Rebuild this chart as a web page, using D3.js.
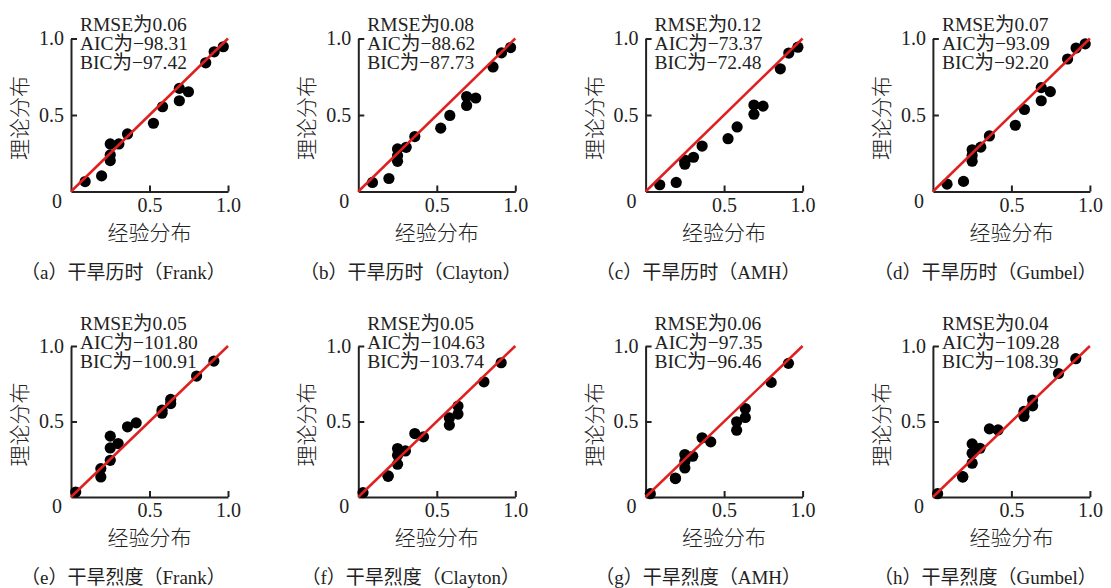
<!DOCTYPE html>
<html>
<head>
<meta charset="utf-8">
<script src="https://cdn.jsdelivr.net/npm/d3@7"></script>
<style>
  body { margin: 0; background: #fff; }
  svg text { font-family: "Liberation Serif", "Noto Sans CJK SC", serif; fill: #222; }
</style>
</head>
<body>
<svg id="chart" width="1111" height="588"></svg>
<script>
// empirical distribution (x) for the two variables
var durationX = [0.09, 0.195, 0.25, 0.25, 0.25, 0.305, 0.36, 0.525, 0.583, 0.69, 0.69, 0.748, 0.858, 0.912, 0.97];
var severityX = [0.03, 0.19, 0.19, 0.25, 0.25, 0.25, 0.30, 0.36, 0.415, 0.58, 0.58, 0.635, 0.635, 0.80, 0.91];

// theoretical distribution (y) for each copula
var durFrank   = [0.065, 0.102, 0.202, 0.239, 0.311, 0.311, 0.376, 0.446, 0.554, 0.593, 0.674, 0.652, 0.841, 0.913, 0.946];
var durClayton = [0.059, 0.085, 0.197, 0.234, 0.278, 0.289, 0.359, 0.414, 0.497, 0.562, 0.621, 0.611, 0.814, 0.906, 0.941];
var durAMH     = [0.044, 0.059, 0.178, 0.195, 0.205, 0.224, 0.297, 0.345, 0.422, 0.505, 0.565, 0.558, 0.802, 0.905, 0.943];
var durGumbel  = [0.048, 0.066, 0.198, 0.235, 0.273, 0.290, 0.363, 0.433, 0.536, 0.593, 0.679, 0.653, 0.866, 0.938, 0.965];
var sevFrank   = [0.033, 0.188, 0.133, 0.243, 0.325, 0.403, 0.354, 0.465, 0.491, 0.555, 0.575, 0.619, 0.646, 0.801, 0.900];
var sevClayton = [0.029, 0.137, 0.140, 0.217, 0.277, 0.321, 0.305, 0.420, 0.398, 0.476, 0.524, 0.549, 0.602, 0.763, 0.889];
var sevAMH     = [0.022, 0.122, 0.125, 0.192, 0.235, 0.281, 0.270, 0.392, 0.365, 0.442, 0.498, 0.527, 0.586, 0.759, 0.885];
var sevGumbel  = [0.022, 0.132, 0.135, 0.224, 0.290, 0.352, 0.323, 0.451, 0.444, 0.534, 0.567, 0.604, 0.642, 0.818, 0.916];

var rmse = ["0.06", "0.08", "0.12", "0.07", "0.05", "0.05", "0.06", "0.04"];
var aic  = ["−98.31", "−88.62", "−73.37", "−93.09", "−101.80", "−104.63", "−97.35", "−109.28"];
var bic  = ["−97.42", "−87.73", "−72.48", "−92.20", "−100.91", "−103.74", "−96.46", "−108.39"];
var captions = ["（a）干旱历时（Frank）", "（b）干旱历时（Clayton）", "（c）干旱历时（AMH）", "（d）干旱历时（Gumbel）",
                "（e）干旱烈度（Frank）", "（f）干旱烈度（Clayton）", "（g）干旱烈度（AMH）", "（h）干旱烈度（Gumbel）"];
var tickValues = [0.5, 1.0];

var yData = [durFrank, durClayton, durAMH, durGumbel, sevFrank, sevClayton, sevAMH, sevGumbel];

var svg = d3.select("#chart");
var W = 157;
var rows = [{top: 38.5, bottom: 191.5, textOff: -8}, {top: 346, bottom: 497, textOff: -16}];

yData.forEach(function(ys, k){
  var row = Math.floor(k / 4), col = k % 4;
  var r = rows[row];
  var left = 71 + col * 287.3;
  var xs = row == 0 ? durationX : severityX;

  var x = d3.scaleLinear().domain([0, 1]).range([left, left + W]);
  var y = d3.scaleLinear().domain([0, 1]).range([r.bottom, r.top]);
  var g = svg.append("g");

  var xAxis = g.append("g")
    .attr("transform", "translate(0," + r.bottom + ")")
    .call(d3.axisBottom(x).tickValues(tickValues).tickFormat(d3.format(".1f"))
      .tickSizeInner(-6).tickSizeOuter(0).tickPadding(6));
  var yAxis = g.append("g")
    .attr("transform", "translate(" + left + ",0)")
    .call(d3.axisLeft(y).tickValues(tickValues).tickFormat(d3.format(".1f"))
      .tickSizeInner(-6).tickSizeOuter(0).tickPadding(7));
  [xAxis, yAxis].forEach(function(a){
    a.select(".domain").attr("stroke", "#222").attr("stroke-width", 2);
    a.selectAll(".tick line").attr("stroke", "#222").attr("stroke-width", 2);
    a.selectAll(".tick text").attr("font-size", 20).attr("fill", "#222")
      .attr("font-family", "Liberation Serif");
  });

  g.append("text").attr("x", left - 9).attr("y", r.bottom + 16)
    .attr("text-anchor", "end").attr("font-size", 20).text("0");

  // points
  g.selectAll("circle").data(xs.map(function(d, i){ return [d, ys[i]]; }))
    .enter().append("circle")
    .attr("cx", function(d){ return x(d[0]); })
    .attr("cy", function(d){ return y(d[1]); })
    .attr("r", 5.6)
    .attr("fill", "#000");

  // 1:1 line
  g.append("line")
    .attr("x1", x(0)).attr("y1", y(0)).attr("x2", x(1)).attr("y2", y(1))
    .attr("stroke", "#e0201e").attr("stroke-width", 2.5);

  var lines = ["RMSE为" + rmse[k], "AIC为" + aic[k], "BIC为" + bic[k]];
  g.selectAll("text.note").data(lines).enter().append("text")
    .attr("class", "note")
    .attr("x", left + 9)
    .attr("y", function(d, i){ return r.top + r.textOff + i * 19; })
    .attr("font-size", 19.5)
    .text(function(d){ return d; });

  g.append("text")
    .attr("transform", "translate(" + (left - 44) + "," + ((r.top + r.bottom) / 2 + 3) + ") rotate(-90)")
    .attr("text-anchor", "middle").attr("font-size", 21).attr("font-weight", 300)
    .text("理论分布");
  g.append("text")
    .attr("x", left + W / 2).attr("y", r.bottom + 48)
    .attr("text-anchor", "middle").attr("font-size", 21).attr("font-weight", 300)
    .text("经验分布");
  g.append("text")
    .attr("x", left + W / 2 - 26).attr("y", r.bottom + 87)
    .attr("text-anchor", "middle").attr("font-size", 19)
    .text(captions[k]);
});
</script>
</body>
</html>
